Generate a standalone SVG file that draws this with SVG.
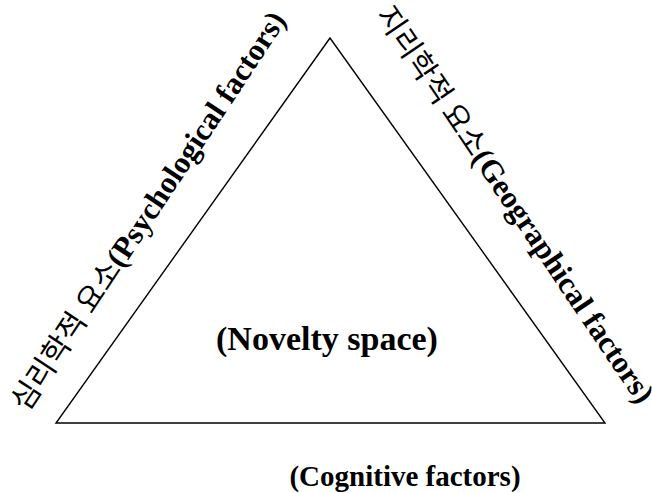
<svg xmlns="http://www.w3.org/2000/svg" width="652" height="493" viewBox="0 0 652 493">
<style>
.en{font-family:"Liberation Serif","Times New Roman",serif;font-weight:bold;fill:#000}
.ko{font-family:"Noto Sans CJK KR","Noto Sans",sans-serif;font-weight:normal;fill:#000}
.tri{fill:none;stroke:#000;stroke-width:1.4;stroke-linejoin:miter}
</style>
<rect width="652" height="493" fill="#fff"/>
<g id="connectors">
<polygon id="triangle" class="tri" points="330,38 56,423 605,423"/>
</g>
<g id="psychological">
<text transform="translate(27,413) rotate(-56.5)" font-size="31"><tspan class="ko" font-size="30">심리학적 요소</tspan><tspan class="en">(Psychological factors)</tspan></text>
</g>
<g id="geographical">
<text transform="translate(375,15) rotate(56)" font-size="31"><tspan class="ko" font-size="30">지리학적 요소</tspan><tspan class="en">(Geographical factors)</tspan></text>
</g>
<g id="novelty">
<text class="en" x="327" y="350" font-size="34" text-anchor="middle">(Novelty space)</text>
</g>
<g id="cognitive">
<text class="en" x="405" y="486" font-size="29" text-anchor="middle">(Cognitive factors)</text>
</g>
</svg>
